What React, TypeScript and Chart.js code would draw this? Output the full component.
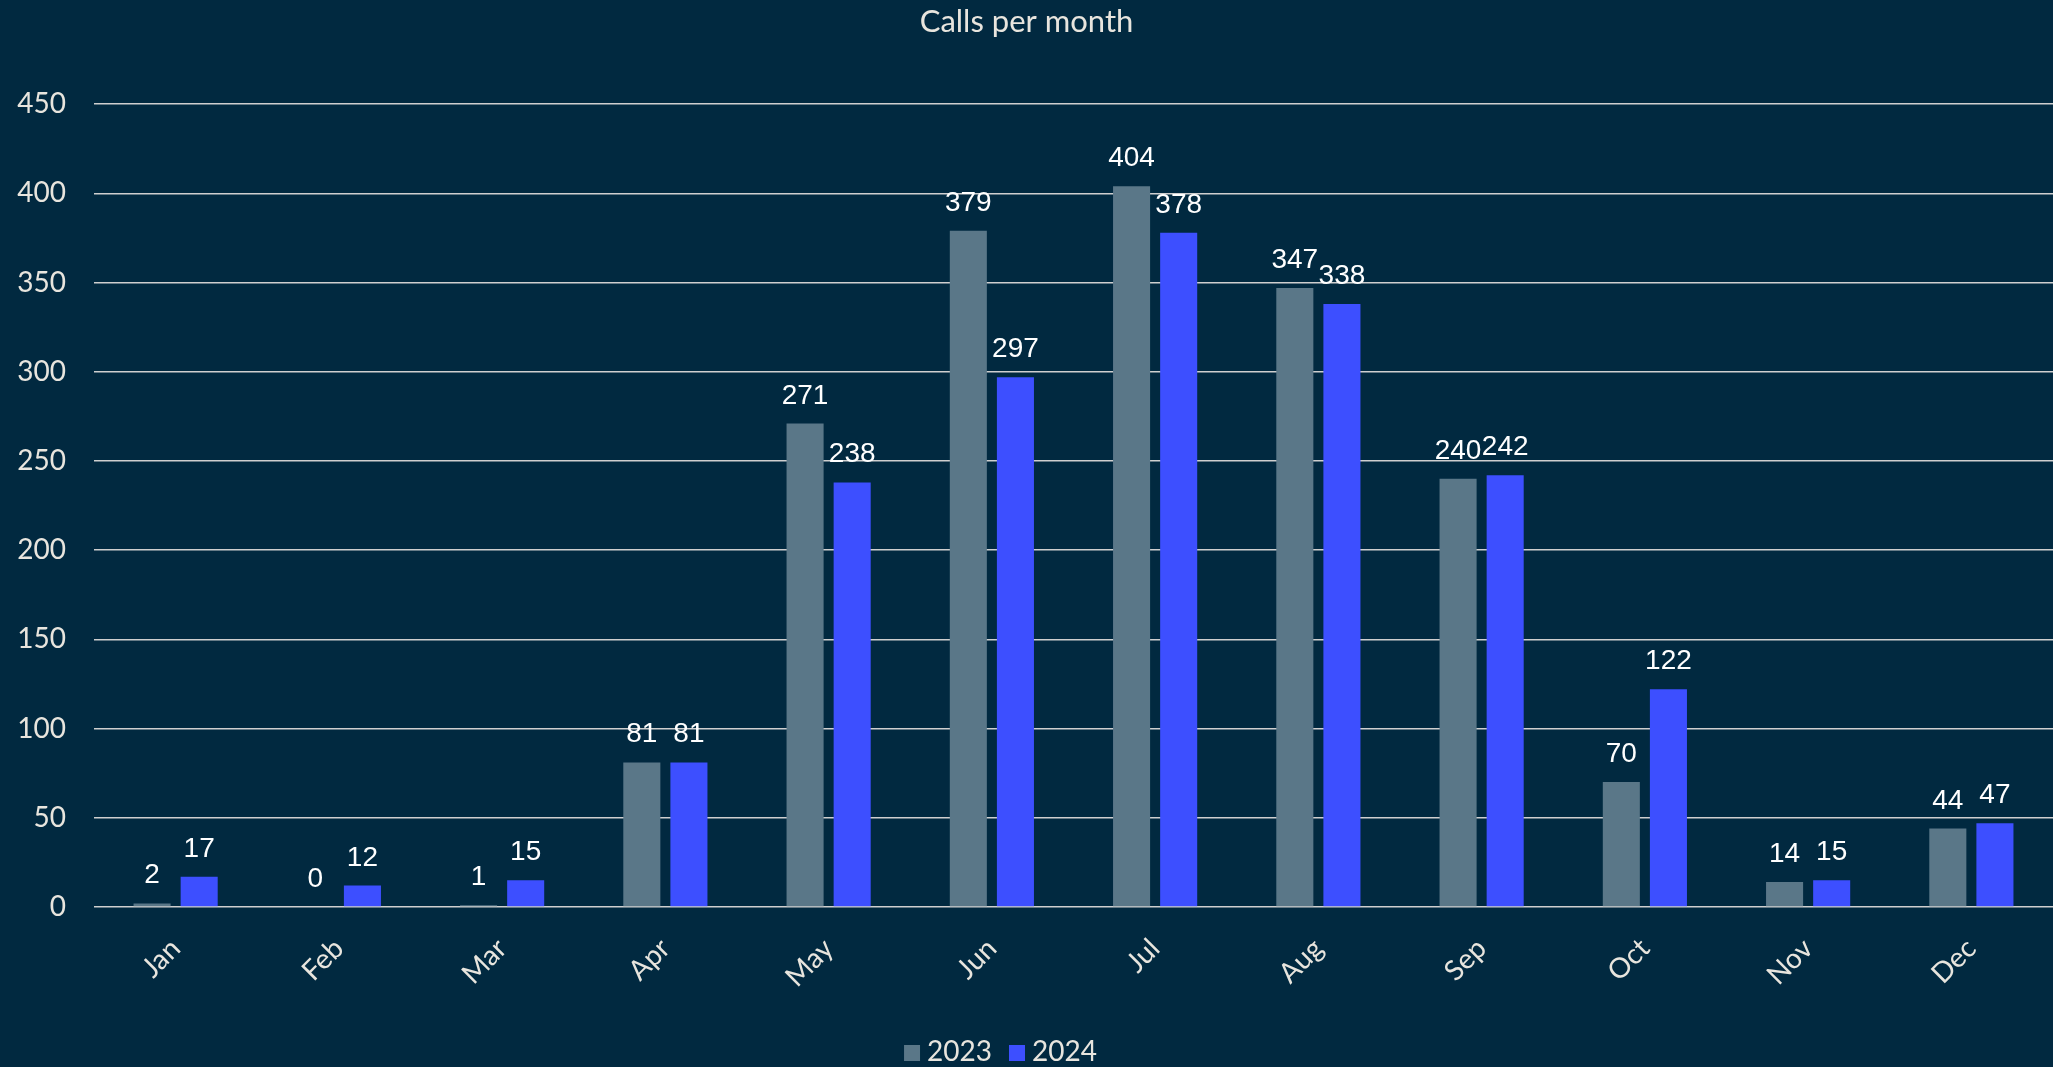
import React, { useEffect, useRef } from "react";
import { Chart, registerables } from "chart.js";

Chart.register(...registerables);

const months = ["Jan", "Feb", "Mar", "Apr", "May", "Jun", "Jul", "Aug", "Sep", "Oct", "Nov", "Dec"];
const calls2023 = [2, 0, 1, 81, 271, 379, 404, 347, 240, 70, 14, 44];
const calls2024 = [17, 12, 15, 81, 238, 297, 378, 338, 242, 122, 15, 47];
const seriesNames = ["2023", "2024"];
const titleText = "Calls per month";

const BG = "#012940";
const TEXT = "#e8e5de";
const GRAY = "#5a7788";
const BLUE = "#3d4fff";
const UI_FONT = "Lato";

const dataLabelPlugin = {
  id: "barValueLabels",
  afterDatasetsDraw(chart: any) {
    const ctx = chart.ctx;
    ctx.save();
    ctx.font = '28px "Liberation Sans"';
    ctx.fillStyle = "#ffffff";
    ctx.textAlign = "center";
    ctx.textBaseline = "alphabetic";
    chart.data.datasets.forEach((ds: any, i: number) => {
      const meta = chart.getDatasetMeta(i);
      meta.data.forEach((bar: any, j: number) => {
        ctx.fillText(String(ds.data[j]), bar.x, bar.y - 20);
      });
    });
    ctx.restore();
  },
};

const bottomLegendPlugin = {
  id: "bottomLegend",
  afterDraw(chart: any) {
    const ctx = chart.ctx;
    const box = 16;
    const gapBoxText = 7;
    const gapItems = 17;
    ctx.save();
    ctx.font = `28px ${UI_FONT}`;
    ctx.textBaseline = "middle";
    ctx.textAlign = "left";
    const items = chart.data.datasets.map((ds: any) => ({
      text: ds.label,
      color: ds.backgroundColor,
      w: ctx.measureText(ds.label).width,
    }));
    const total =
      items.reduce((s: number, it: any) => s + box + gapBoxText + it.w, 0) + gapItems * (items.length - 1);
    let x = chart.width / 2 - 26 - total / 2;
    const cy = chart.height - 15;
    items.forEach((it: any) => {
      ctx.fillStyle = it.color;
      ctx.fillRect(x, cy - box / 2 + 1, box, box);
      x += box + gapBoxText;
      ctx.fillStyle = TEXT;
      ctx.fillText(it.text, x, cy);
      x += it.w + gapItems;
    });
    ctx.restore();
  },
};

export default function App() {
  const ref = useRef<HTMLCanvasElement | null>(null);

  useEffect(() => {
    document.body.style.margin = "0";
    document.body.style.background = BG;
    if (!ref.current) return;
    const chart = new Chart(ref.current, {
      type: "bar",
      data: {
        labels: months,
        datasets: [
          {
            label: seriesNames[0],
            data: calls2023,
            backgroundColor: GRAY,
            categoryPercentage: 0.577,
            barPercentage: 0.787,
          },
          {
            label: seriesNames[1],
            data: calls2024,
            backgroundColor: BLUE,
            categoryPercentage: 0.577,
            barPercentage: 0.787,
          },
        ],
      },
      options: {
        responsive: false,
        animation: false,
        devicePixelRatio: 1,
        layout: { padding: 0 },
        plugins: {
          title: {
            display: true,
            text: titleText,
            color: TEXT,
            font: { family: UI_FONT, size: 31, weight: "normal", lineHeight: 1.2 },
            padding: { top: 3, bottom: 64 },
          },
          legend: { display: false },
          tooltip: { enabled: false },
        },
        scales: {
          x: {
            grid: { display: false },
            border: { display: false },
            ticks: {
              color: TEXT,
              font: { family: UI_FONT, size: 28 },
              minRotation: 45,
              maxRotation: 45,
              padding: 17,
            },
            afterFit(scale: any) {
              scale.height = 160;
            },
          },
          y: {
            min: 0,
            max: 450,
            ticks: {
              stepSize: 50,
              color: TEXT,
              font: { family: UI_FONT, size: 28 },
              padding: 28,
            },
            grid: { color: "#cfcfcf", lineWidth: 1.5, drawTicks: false },
            border: { display: false },
            afterFit(scale: any) {
              scale.width = 94;
            },
          },
        },
      },
      plugins: [dataLabelPlugin, bottomLegendPlugin],
    } as any);
    return () => chart.destroy();
  }, []);

  return (
    <div style={{ position: "fixed", left: 0, top: 0, width: 2053, height: 1067, background: BG }}>
      <canvas ref={ref} width={2053} height={1067} style={{ display: "block" }} />
    </div>
  );
}
